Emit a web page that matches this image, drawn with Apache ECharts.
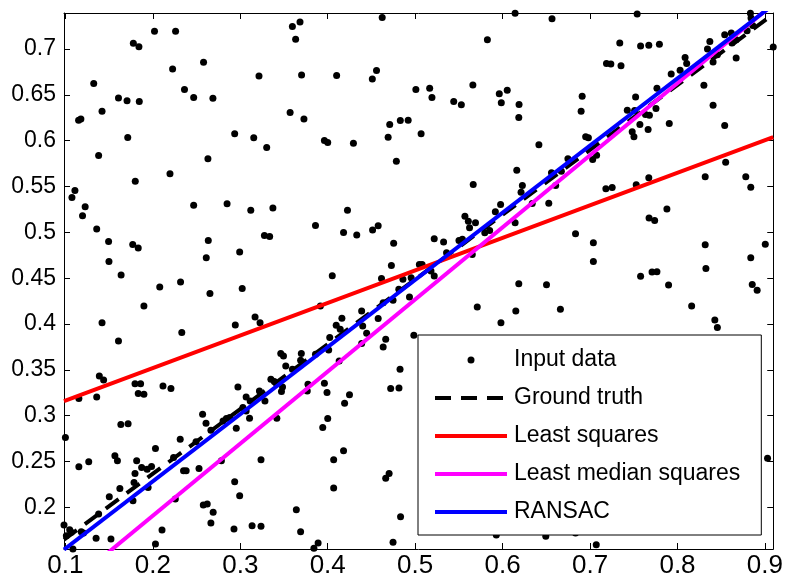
<!DOCTYPE html>
<html>
<head>
<meta charset="utf-8">
<script src="https://cdn.jsdelivr.net/npm/echarts@6/dist/echarts.min.js"></script>
<style>
html,body{margin:0;padding:0;background:#fff;}
#chart{width:786px;height:579px;}
</style>
</head>
<body>
<div id="chart"></div>
<script>
// ---- Axis ranges & ticks ----
const xRange = [0.0984, 0.9095];
const yRange = [0.1546, 0.7392];
const xTicks = [0.1, 0.2, 0.3, 0.4, 0.5, 0.6, 0.7, 0.8, 0.9];
const xTickLabels = ['0.1', '0.2', '0.3', '0.4', '0.5', '0.6', '0.7', '0.8', '0.9'];
const yTicks = [0.2, 0.25, 0.3, 0.35, 0.4, 0.45, 0.5, 0.55, 0.6, 0.65, 0.7];
const yTickLabels = ['0.2', '0.25', '0.3', '0.35', '0.4', '0.45', '0.5', '0.55', '0.6', '0.65', '0.7'];

// ---- Legend / series names ----
const seriesNames = ['Input data', 'Ground truth', 'Least squares', 'Least median squares', 'RANSAC'];

// ---- Fitted lines (x endpoints and y values) ----
const lineX = [0.0984, 0.9095];
const groundTruthY = [0.1648, 0.7380];
const leastSquaresY = [0.3158, 0.6038];
const leastMedianY = [0.1110, 0.7488];
const ransacY = [0.1540, 0.7481];

// ---- Input data points, by region ----
const pointsUpperLeft = [
[0.4623,0.7344],[0.2019,0.7192],[0.2260,0.7192],[0.3596,0.7246],[0.3683,0.7294],[0.3633,0.7105],
[0.1777,0.7061],[0.1841,0.7025],[0.2580,0.6854],[0.2226,0.6782],[0.3214,0.6706],[0.3701,0.6717],
[0.4102,0.6709],[0.4510,0.6673],[0.4558,0.6764],[0.1324,0.6622],[0.2362,0.6557],[0.2467,0.6470],
[0.2687,0.6462],[0.1607,0.6466],[0.1705,0.6434],[0.1845,0.6426],[0.1419,0.6320],[0.1151,0.6222],
[0.1177,0.6237],[0.3570,0.6306],[0.3728,0.6237],[0.4709,0.6175],[0.2936,0.6074],[0.1713,0.6034],
[0.3154,0.6031],[0.3302,0.5925],[0.3962,0.6001],[0.4000,0.5979],[0.4294,0.5972],[0.4691,0.6037],
[0.1380,0.5838],[0.2630,0.5802],[0.4785,0.5776],[0.2196,0.5638],[0.1799,0.5558],[0.1075,0.5380],
[0.1109,0.5456],[0.1226,0.5279],[0.1196,0.5181],[0.2467,0.5296],[0.2849,0.5312],[0.3120,0.5242],
[0.3373,0.5264],[0.1358,0.5035],[0.3860,0.5075],[0.4181,0.4999],[0.4226,0.5242],[0.4513,0.5024],
[0.4577,0.5072],[0.1494,0.4901],[0.1770,0.4868],[0.1833,0.4828],[0.2634,0.4912],[0.3276,0.4966],
[0.3336,0.4955],[0.4332,0.4970],[0.4754,0.4882],[0.1498,0.4683],[0.2611,0.4723],[0.2993,0.4784],
[0.1637,0.4534],[0.4052,0.4527],[0.4615,0.4495],[0.4728,0.4639],[0.2079,0.4403],[0.2317,0.4458],
[0.3022,0.4386]
];
const pointsUpperMiddle = [
[0.6143,0.7390],[0.6565,0.7330],[0.5826,0.7101],[0.5008,0.6557],[0.5166,0.6571],[0.5192,0.6470],
[0.5660,0.6608],[0.5962,0.6510],[0.6053,0.6549],[0.5985,0.6412],[0.6188,0.6393],[0.6185,0.6252],
[0.5441,0.6426],[0.5528,0.6390],[0.4830,0.6219],[0.4920,0.6222]
];
const pointsRightMiddle = [
[0.7181,0.5475],[0.7253,0.5489],[0.7528,0.5519],[0.8838,0.5492],[0.7879,0.5253],[0.7675,0.5155],
[0.7739,0.5130],[0.7578,0.4520],[0.7709,0.4566],[0.7765,0.4571],[0.7898,0.4425],[0.8317,0.4865],
[0.8325,0.4604],[0.8838,0.4723],[0.9004,0.4871],[0.8855,0.4432]
];
const pointsUpperRight = [
[0.7539,0.7381],[0.8834,0.7390],[0.9095,0.7022],[0.7340,0.7065],[0.7578,0.7033],[0.7672,0.7039],
[0.7793,0.7050],[0.7188,0.6840],[0.7238,0.6837],[0.7354,0.6818],[0.6910,0.6484],[0.6898,0.6320],
[0.6950,0.6041],[0.6981,0.6031],[0.7030,0.5794],[0.7075,0.5841],[0.7521,0.6477],[0.7426,0.6331],
[0.7510,0.6328],[0.7634,0.6284],[0.7679,0.6277],[0.7754,0.6350],[0.7570,0.6175],[0.7664,0.6121],
[0.7482,0.6096],[0.7502,0.6041],[0.7906,0.6186],[0.7765,0.6571],[0.7928,0.6728],[0.8030,0.6767],
[0.8087,0.6908],[0.8105,0.6840],[0.8302,0.6603],[0.8407,0.6386],[0.8540,0.6164],[0.8370,0.7080],
[0.8343,0.7000],[0.8456,0.6938],[0.8407,0.6858],[0.8540,0.7156],[0.8615,0.7174],[0.8671,0.7101],
[0.8623,0.7065],[0.8671,0.6902],[0.8796,0.7199],[0.8841,0.7338],[0.8860,0.7257],[0.8551,0.5765],
[0.8317,0.5606],[0.8781,0.5606],[0.7672,0.5595]
];
const pointsCenter = [
[0.5068,0.6074],[0.6415,0.5954],[0.6747,0.5802],[0.5664,0.5522],[0.6162,0.5678],[0.6226,0.5511],
[0.6211,0.5438],[0.6339,0.5315],[0.6528,0.5318],[0.6559,0.5649],[0.6672,0.5667],[0.6607,0.5511],
[0.5977,0.5304],[0.5917,0.5224],[0.6143,0.5105],[0.5569,0.5176],[0.5608,0.5122],[0.5690,0.5105],
[0.5622,0.5050],[0.5852,0.5021],[0.5796,0.4996],[0.5501,0.4912],[0.5540,0.4923],[0.5325,0.4893],
[0.5218,0.4930],[0.5359,0.4778],[0.5653,0.4759],[0.5181,0.4577],[0.5218,0.4523],[0.5048,0.4650],
[0.5079,0.4650],[0.4954,0.4505],[0.4860,0.4487],[0.4935,0.4294],[0.5710,0.4185],[0.6151,0.4142],
[0.6661,0.4160],[0.6185,0.4440],[0.6502,0.4429],[0.6834,0.4985],[0.7038,0.4887],[0.7038,0.4683],
[0.4813,0.4378]
];
const pointsLowerLeftEdge = [
[0.1898,0.4196],[0.2653,0.4334],[0.1419,0.4015],[0.1607,0.3815],[0.2331,0.3906],[0.3237,0.2519],
[0.3641,0.1974],[0.3690,0.1734],[0.3237,0.1793],[0.3842,0.1553],[0.3890,0.1611],[0.4068,0.2519],
[0.4068,0.2210],[0.4181,0.2617],[0.4747,0.1619],[0.4663,0.2319],[0.4702,0.2370]
];
const pointsLowerLeft = [
[0.1000,0.2763],[0.1388,0.3434],[0.1437,0.3390],[0.1154,0.3187],[0.1358,0.3205],[0.1796,0.3347],
[0.1860,0.3347],[0.1833,0.3242],[0.1898,0.3234],[0.2116,0.3325],[0.2207,0.3296],[0.1634,0.2904],
[0.1717,0.2911],[0.2569,0.3016],[0.2608,0.2918],[0.2803,0.2943],[0.2841,0.2970],[0.2664,0.2842],
[0.2313,0.2744],[0.2494,0.2715],[0.2030,0.2643],[0.1566,0.2562],[0.1595,0.2508],[0.1815,0.2508],
[0.1154,0.2442],[0.1267,0.2497],[0.1796,0.2370],[0.1872,0.2436],[0.1935,0.2417],[0.1985,0.2447],
[0.2237,0.2545],[0.2351,0.2399],[0.2381,0.2399],[0.2528,0.2425],[0.2784,0.2508],[0.2936,0.2279],
[0.2993,0.2126],[0.2928,0.1764],[0.3135,0.1800],[0.1785,0.2272],[0.1773,0.2072],[0.1946,0.2218],
[0.1623,0.2207],[0.1502,0.2116],[0.1380,0.1927],[0.2257,0.2091],[0.2577,0.2025],[0.2622,0.2036],
[0.2690,0.1946],[0.2664,0.1829],[0.2105,0.1753],[0.2030,0.1600],[0.1521,0.1655],[0.1351,0.1662],
[0.0984,0.1807],[0.1049,0.1756],[0.1068,0.1728],[0.1181,0.1734],[0.1207,0.1720],[0.1011,0.1691],
[0.1086,0.1546]
];
const pointsLowerMiddle = [
[0.2943,0.3989],[0.3169,0.4076],[0.3226,0.4015],[0.3916,0.4196],[0.4747,0.4258],[0.4634,0.4233],
[0.4388,0.4142],[0.4162,0.4062],[0.4097,0.3986],[0.4577,0.4059],[0.4400,0.3978],[0.4445,0.3899],
[0.4388,0.3787],[0.4663,0.3833],[0.4634,0.3749],[0.4023,0.3852],[0.4143,0.3942],[0.3860,0.3670],
[0.4011,0.3717],[0.3698,0.3678],[0.3463,0.3678],[0.3494,0.3651],[0.3520,0.3543],[0.3690,0.3605],
[0.3596,0.3506],[0.4131,0.3597],[0.3350,0.3398],[0.3389,0.3373],[0.3483,0.3314],[0.3471,0.3264],
[0.3219,0.3270],[0.3067,0.3205],[0.3113,0.3161],[0.3282,0.3161],[0.2973,0.3314],[0.3030,0.3089],
[0.3067,0.3052],[0.3106,0.2973],[0.2954,0.2864],[0.2879,0.2980],[0.3418,0.2973],[0.3774,0.3343],
[0.3962,0.3354],[0.3992,0.3253],[0.3766,0.3270],[0.4193,0.3136],[0.4249,0.3227],[0.4000,0.2970],
[0.3943,0.2871],[0.4720,0.3296],[0.4815,0.3303],[0.4827,0.3506],[0.4985,0.3877]
];
const pointsLowerRight = [
[0.5981,0.4015],[0.8162,0.4196],[0.8427,0.4044],[0.8456,0.3961],[0.8911,0.4367],[0.8879,0.3427],
[0.9030,0.2537],[0.4833,0.1898],[0.5928,0.1698],[0.6494,0.1684],[0.6834,0.1720],[0.7071,0.1593]
];

const inputPoints = [].concat(pointsUpperLeft, pointsUpperMiddle, pointsRightMiddle, pointsUpperRight,
  pointsCenter, pointsLowerLeftEdge, pointsLowerLeft, pointsLowerMiddle, pointsLowerRight);

const FONT = '"Liberation Sans", Arial, Helvetica, sans-serif';

function pairs(xs, ys) { return xs.map((x, i) => [x, ys[i]]); }
function labelFor(ticks, labels) {
  return function (v) {
    let best = 0, bd = Infinity;
    ticks.forEach((t, i) => { const d = Math.abs(t - v); if (d < bd) { bd = d; best = i; } });
    return labels[best];
  };
}

const chart = echarts.init(document.getElementById('chart'), null, { renderer: 'canvas' });

const axisLineStyle = { show: true, onZero: false, lineStyle: { color: '#000', width: 1 } };

function xAxisDef(pos, showLabel) {
  return {
    type: 'value', position: pos, min: xRange[0], max: xRange[1],
    axisLine: axisLineStyle,
    axisTick: { show: true, inside: true, length: 6, customValues: xTicks, lineStyle: { color: '#000', width: 1 } },
    axisLabel: { show: showLabel, customValues: xTicks, formatter: labelFor(xTicks, xTickLabels),
      color: '#000', fontSize: 26, fontFamily: FONT, margin: 4 },
    splitLine: { show: false }
  };
}
function yAxisDef(pos, showLabel) {
  return {
    type: 'value', position: pos, min: yRange[0], max: yRange[1],
    axisLine: axisLineStyle,
    axisTick: { show: true, inside: true, length: 6, customValues: yTicks, lineStyle: { color: '#000', width: 1 } },
    axisLabel: { show: showLabel, customValues: yTicks, formatter: labelFor(yTicks, yTickLabels),
      color: '#000', fontSize: 23, fontFamily: FONT, margin: 8 },
    splitLine: { show: false }
  };
}

const hiddenDot = { opacity: 0 };

const option = {
  animation: false,
  backgroundColor: '#fff',
  grid: { left: 64, top: 13, width: 717, height: 537, containLabel: false },
  xAxis: [xAxisDef('bottom', true), xAxisDef('top', false)],
  yAxis: [yAxisDef('left', true), yAxisDef('right', false)],
  legend: {
    orient: 'vertical', left: 418, top: 335,
    padding: [13, 21, 11, 15],
    itemWidth: 72, itemHeight: 7, itemGap: 14,
    backgroundColor: '#fff', borderColor: '#000', borderWidth: 1, borderRadius: 0,
    textStyle: { fontSize: 23, fontFamily: FONT, color: '#000', lineHeight: 24, padding: [0, 0, 0, 2] },
    lineStyle: { width: 4 },
    selectedMode: false,
    data: [
      { name: seriesNames[0] },
      { name: seriesNames[1], itemStyle: hiddenDot },
      { name: seriesNames[2], itemStyle: hiddenDot },
      { name: seriesNames[3], itemStyle: hiddenDot },
      { name: seriesNames[4], itemStyle: hiddenDot }
    ],
    z: 10
  },
  series: [
    { name: seriesNames[0], type: 'scatter', data: inputPoints, symbol: 'circle', symbolSize: 7,
      itemStyle: { color: '#000', opacity: 1 }, emphasis: { disabled: true }, z: 2 },
    { name: seriesNames[1], type: 'line', data: pairs(lineX, groundTruthY), symbol: 'none',
      lineStyle: { color: '#000', width: 4, type: [16, 10] }, itemStyle: { color: '#000' }, z: 3 },
    { name: seriesNames[2], type: 'line', data: pairs(lineX, leastSquaresY), symbol: 'none',
      lineStyle: { color: '#ff0000', width: 4 }, itemStyle: { color: '#ff0000' }, z: 3 },
    { name: seriesNames[3], type: 'line', data: pairs(lineX, leastMedianY), symbol: 'none',
      lineStyle: { color: '#ff00ff', width: 4 }, itemStyle: { color: '#ff00ff' }, z: 3 },
    { name: seriesNames[4], type: 'line', data: pairs(lineX, ransacY), symbol: 'none',
      lineStyle: { color: '#0000ff', width: 4 }, itemStyle: { color: '#0000ff' }, z: 3 }
  ]
};
chart.setOption(option);
</script>
</body>
</html>
